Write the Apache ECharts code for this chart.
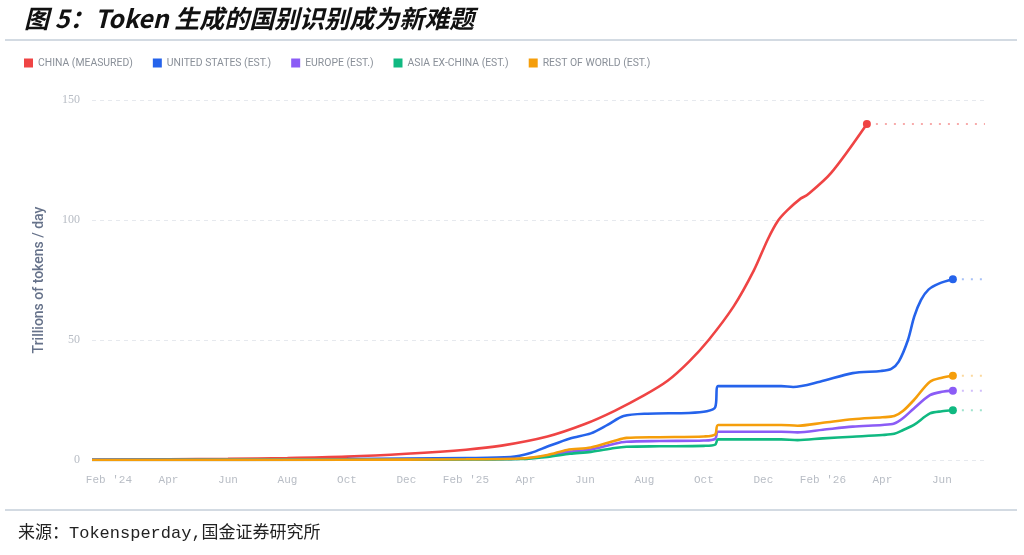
<!DOCTYPE html>
<html>
<head>
<meta charset="utf-8">
<script src="https://cdn.jsdelivr.net/npm/echarts@6/dist/echarts.min.js"></script>
<style>
  html, body { margin: 0; padding: 0; background: #fff; }
  #main { width: 1024px; height: 555px; }
</style>
</head>
<body>
<div id="main"></div>
<script type="text/javascript">
    // x = months since Feb 1 2024
    var monthNames = ['Jan','Feb','Mar','Apr','May','Jun','Jul','Aug','Sep','Oct','Nov','Dec'];
    var tickMonths = [0, 2, 4, 6, 8, 10, 12, 14, 16, 18, 20, 22, 24, 26, 28];

    var seriesNames = ['CHINA (MEASURED)', 'UNITED STATES (EST.)', 'EUROPE (EST.)', 'ASIA EX-CHINA (EST.)', 'REST OF WORLD (EST.)'];
    var seriesColors = ['#ef4444', '#2563eb', '#8b5cf6', '#10b981', '#f59e0b'];
    var seriesFaded = ['rgba(239,68,68,0.45)', 'rgba(37,99,235,0.4)', 'rgba(139,92,246,0.4)', 'rgba(16,185,129,0.4)', 'rgba(245,158,11,0.4)'];

    var chinaData = [[-0.57,0.1],[2,0.3],[4,0.5],[6,0.8],[8,1.4],[10,2.6],[12,4.3],[13.2,6],[14.74,9.8],
        [16,15],[17,20.5],[18,27],[18.78,33],[19.5,41],[20.16,50],[21,64],[21.68,79],[22.15,92],
        [22.48,99.5],[22.8,104],[23.26,109],[23.48,110.5],[24.27,119.5],[25.48,140]];
    var usData = [[-0.57,0.1],[4,0.2],[8,0.4],[12,0.8],[13.5,1.2],[14.2,3],[14.74,5.6],[15.5,9],[16.2,11.1],
        [16.76,14.6],[17.3,18.3],[18.1,19.3],[19.5,19.6],[20.1,20.3],[20.38,22],[20.48,30.8],[22.6,30.8],
        [23.0,30.4],[23.9,32.6],[25.0,36.2],[25.95,37.1],[26.3,38],[26.55,41],[26.86,50],[27.07,59.7],
        [27.3,66.7],[27.55,71],[27.9,73.5],[28.37,75.3]];
    var europeData = [[-0.57,0],[8,0.1],[12,0.3],[13.8,0.5],[14.74,1.8],[15.5,3.5],[16.2,4.4],[17.0,6.8],
        [17.4,7.6],[18.5,7.9],[20.0,8.1],[20.38,8.8],[20.48,11.8],[22.6,11.8],[23.15,11.5],[24.0,12.6],
        [25.0,13.9],[26.0,14.6],[26.4,15.2],[26.7,17.5],[27.06,21.5],[27.6,27],[28.0,28.4],[28.37,28.9]];
    var asiaData = [[-0.57,0],[8,0.1],[12,0.2],[13.8,0.4],[14.74,1.3],[15.5,2.6],[16.2,3.4],[17.0,5.0],
        [17.4,5.5],[18.5,5.7],[20.0,5.9],[20.38,6.4],[20.48,8.6],[22.6,8.6],[23.15,8.3],[24.0,9.0],
        [25.0,9.7],[26.0,10.4],[26.4,10.9],[26.7,12.5],[27.06,14.6],[27.6,19.4],[28.0,20.3],[28.37,20.7]];
    var restData = [[-0.57,0],[8,0.1],[12,0.3],[13.8,0.6],[14.74,2.1],[15.4,4.2],[16.2,5.2],[17.0,8.0],
        [17.4,9.2],[18.5,9.5],[20.0,9.8],[20.38,10.6],[20.48,14.6],[22.6,14.6],[23.15,14.3],[24.0,15.5],
        [25.0,17],[26.0,17.8],[26.4,18.3],[26.7,20.5],[27.06,25],[27.6,32.6],[28.0,34.3],[28.37,35.1]];
    var allData = [chinaData, usData, europeData, asiaData, restData];
    var xEnd = 29.45;

    function monthLabel(m) {
        var idx = (1 + m) % 12;
        var year = 2024 + Math.floor((1 + m) / 12);
        if (idx === 1) return "Feb '" + String(year).slice(2);
        return monthNames[idx];
    }

    var series = [];
    allData.forEach(function (d, i) {
        series.push({
            name: seriesNames[i],
            type: 'line',
            data: d,
            smooth: 0.3,
            showSymbol: false,
            color: seriesColors[i],
            lineStyle: { width: 2.6, color: seriesColors[i] },
            z: 3
        });
        var last = d[d.length - 1];
        series.push({
            name: seriesNames[i] + ' end',
            type: 'line',
            data: [last, [xEnd, last[1]]],
            symbol: 'circle',
            showSymbol: true,
            showAllSymbol: true,
            symbolSize: function (v, p) { return p.dataIndex === 0 ? 8 : 0; },
            itemStyle: { color: seriesColors[i] },
            lineStyle: { width: 2, color: seriesFaded[i], type: [2, 7] },
            z: 4
        });
    });

    var myChart = echarts.init(document.getElementById('main'));
    var option = {
        animation: false,
        backgroundColor: '#fff',
        title: {
            text: '图 5：Token 生成的国别识别成为新难题',
            left: 19,
            top: 1,
            textStyle: {
                fontFamily: 'Noto Sans CJK SC',
                fontSize: 25,
                fontWeight: 'bold',
                fontStyle: 'italic',
                color: '#111'
            }
        },
        legend: {
            data: seriesNames,
            left: 19,
            top: 53,
            icon: 'rect',
            itemWidth: 9,
            itemHeight: 9,
            itemGap: 20,
            textStyle: { fontSize: 10.4, color: '#8a9099', fontFamily: 'Roboto' }
        },
        grid: { left: 92, right: 39, top: 100, bottom: 95 },
        xAxis: {
            type: 'value',
            min: -0.57,
            max: xEnd,
            axisLine: { show: false },
            axisTick: { show: false },
            splitLine: { show: false },
            axisLabel: {
                customValues: tickMonths,
                formatter: function (v) { return monthLabel(Math.round(v)); },
                color: '#b8bdc5',
                fontFamily: 'Liberation Mono',
                fontSize: 11,
                margin: 15
            }
        },
        yAxis: {
            type: 'value',
            min: 0,
            max: 150,
            interval: 50,
            name: 'Trillions of tokens / day',
            nameLocation: 'middle',
            nameGap: 46,
            nameTextStyle: { color: '#66728a', fontSize: 14, fontWeight: 500, fontFamily: 'Roboto' },
            axisLine: { show: false },
            axisTick: { show: false },
            axisLabel: { color: '#b8bdc5', fontFamily: 'Liberation Serif', fontSize: 12, margin: 12 },
            splitLine: { lineStyle: { color: '#e6e9ee', type: [4, 4], width: 1 } }
        },
        graphic: [
            { type: 'line', shape: { x1: 5, y1: 40, x2: 1017, y2: 40 }, style: { stroke: '#a7b6c6', lineWidth: 1 } },
            { type: 'line', shape: { x1: 5, y1: 510, x2: 1017, y2: 510 }, style: { stroke: '#a7b6c6', lineWidth: 1 } },
            { type: 'text', left: 18, top: 525, style: { text: '来源：Tokensperday,国金证券研究所', fontFamily: "'Liberation Mono', 'Noto Sans CJK SC'", fontSize: 17, fill: '#222' } }
        ],
        series: series
    };
    myChart.setOption(option);
</script>
</body>
</html>
